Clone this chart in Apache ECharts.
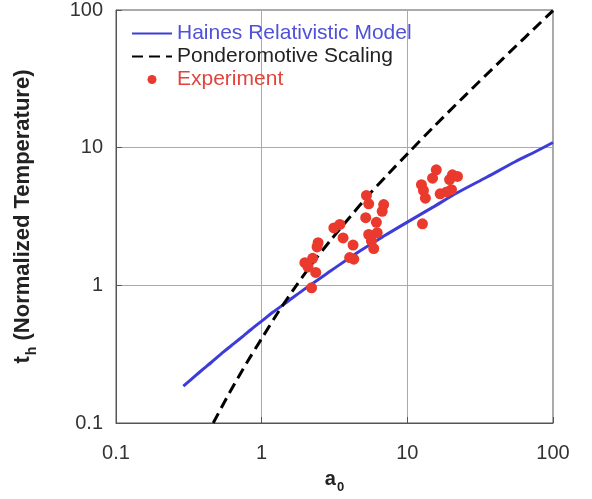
<!DOCTYPE html>
<html><head><meta charset="utf-8">
<script src="https://cdn.jsdelivr.net/npm/echarts@6/dist/echarts.min.js"></script>
<style>html,body{margin:0;padding:0;background:#fff}#c{width:592px;height:499px}</style>
</head><body><div id="c"></div>
<script>
const xTicks = [0.1, 1, 10, 100];
const yTicks = [0.1, 1, 10, 100];
const hainesModel = [[0.29,0.185],[0.35,0.22],[0.4,0.248],[0.45,0.275],[0.55,0.33],[0.65,0.38],[0.75,0.43],[0.85,0.48],[1,0.55],[1.2,0.64],[1.5,0.76],[2,0.95],[3,1.28],[4.5,1.72],[7,2.3],[10,2.88],[15,3.7],[22,4.7],[35,6.1],[55,7.9],[75,9.3],[100,10.9]];
const ponderomotive = [[0.465,0.1],[0.6,0.165],[0.8,0.28],[1,0.41],[1.3,0.64],[1.7,0.97],[2.2,1.42],[3,2.15],[4,3.1],[5.5,4.6],[7.5,6.55],[10,9.0],[15,14],[25,24],[45,44],[100,99]];
const experiment = [
 [2.20,0.96],[1.98,1.46],[2.24,1.57],[2.35,1.24],[2.44,2.04],[2.4,1.9],[2.08,1.36],
 [3.13,2.61],[3.44,2.77],[3.62,2.21],[4.24,1.96],[4.02,1.59],[4.29,1.55],
 [5.24,4.5],[5.43,3.91],[6.88,3.86],[6.72,3.45],[5.18,3.10],[6.13,2.87],[5.43,2.34],[6.21,2.41],[5.67,2.10],[5.88,1.85],
 [15.8,6.9],[14.9,6.0],[12.5,5.38],[12.9,4.89],[13.3,4.30],[20.4,6.35],[22.1,6.18],[19.5,5.87],[16.8,4.62],[18.6,4.77],[20.1,4.95],[12.7,2.80]
];
const FONT = 'Liberation Sans, Arial, Helvetica, sans-serif';
const chart = echarts.init(document.getElementById('c'));
chart.setOption({
  animation: false,
  backgroundColor: '#fff',
  grid: {left: 116, right: 39, top: 8, bottom: 76, show: true, borderColor: '#555', borderWidth: 1},
  legend: {
    orient: 'vertical', left: 126, top: 18, itemWidth: 40, itemHeight: 9, itemGap: 2,
    textStyle: {fontFamily: FONT, fontSize: 21},
    data: [
      {name: 'Haines Relativistic Model', textStyle: {color: '#5050d8'}, itemStyle: {opacity: 0}},
      {name: 'Ponderomotive Scaling', textStyle: {color: '#222'}, itemStyle: {opacity: 0}},
      {name: 'Experiment', textStyle: {color: '#e0443c'}}
    ]
  },
  xAxis: {
    type: 'log', logBase: 10, min: xTicks[0], max: xTicks[xTicks.length-1],
    axisLine: {show: true, lineStyle: {color: '#555'}},
    axisTick: {show: true, inside: true, length: 6, lineStyle: {color: '#555'}},
    axisLabel: {fontFamily: FONT, fontSize: 20, color: '#333', margin: 20, formatter: v => String(v)},
    splitLine: {show: true, lineStyle: {color: '#aaa', width: 1}},
    minorTick: {show: false},
    name: '{a|a}{s|0}', nameLocation: 'middle', nameGap: 42,
    nameTextStyle: {rich: {
      a: {fontFamily: FONT, fontSize: 20, fontWeight: 'bold', color: '#222'},
      s: {fontFamily: FONT, fontSize: 13, fontWeight: 'bold', color: '#222', padding: [16,0,0,1]}
    }}
  },
  yAxis: {
    type: 'log', logBase: 10, min: yTicks[0], max: yTicks[yTicks.length-1],
    axisLine: {show: true, lineStyle: {color: '#555'}},
    axisTick: {show: true, inside: true, length: 6, lineStyle: {color: '#555'}},
    axisLabel: {fontFamily: FONT, fontSize: 20, color: '#333', margin: 13, formatter: v => String(v)},
    splitLine: {show: true, lineStyle: {color: '#aaa', width: 1}},
    name: '{a|t}{s|h}{a| (Normalized Temperature)}', nameLocation: 'middle', nameGap: 77, nameRotate: 90,
    nameTextStyle: {rich: {
      a: {fontFamily: FONT, fontSize: 22, fontWeight: 'bold', color: '#222'},
      s: {fontFamily: FONT, fontSize: 14, fontWeight: 'bold', color: '#222', padding: [18,0,0,1]}
    }}
  },
  series: [
    {name: 'Haines Relativistic Model', type: 'line', data: hainesModel, showSymbol: false, symbol: 'none', smooth: 0.3,
     lineStyle: {color: '#3c3cd8', width: 3}, itemStyle: {color: '#3c3cd8'}, z: 3},
    {name: 'Ponderomotive Scaling', type: 'line', data: ponderomotive, showSymbol: false, symbol: 'none', smooth: 0.3,
     lineStyle: {color: '#000', width: 3, type: [11, 6]}, itemStyle: {color: '#000'}, z: 4},
    {name: 'Experiment', type: 'scatter', data: experiment, symbol: 'circle', symbolSize: 11,
     itemStyle: {color: '#ea3a2e', opacity: 1}, z: 5}
  ]
});
</script></body></html>
